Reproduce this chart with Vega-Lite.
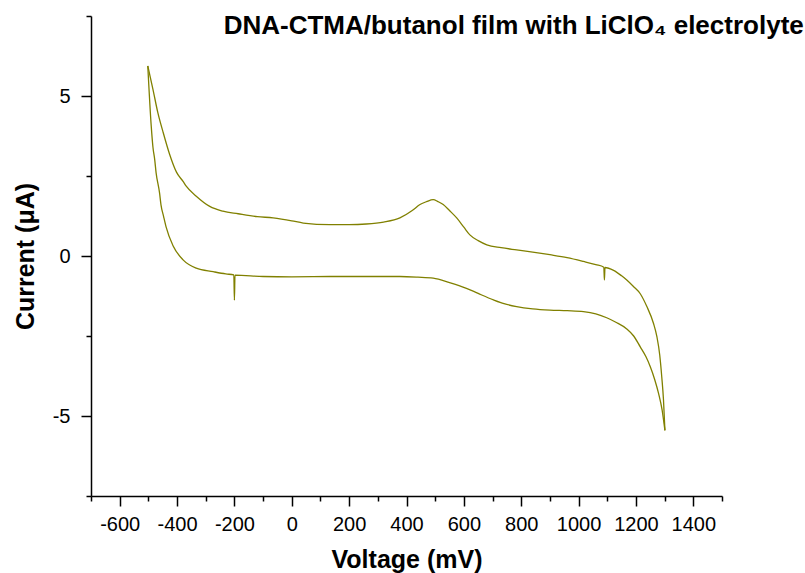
{
  "$schema": "https://vega.github.io/schema/vega-lite/v6.json",
  "width": 631,
  "height": 480,
  "autosize": {"type": "none"},
  "padding": {"left": 91, "top": 16, "right": 83, "bottom": 77},
  "background": "white",
  "config": {
    "view": {"stroke": null},
    "font": "Liberation Sans"
  },
  "title": {
    "text": "DNA-CTMA/butanol film with LiClO₄ electrolyte",
    "anchor": "end",
    "font": "Liberation Sans",
    "fontSize": 26,
    "fontWeight": "bold",
    "color": "black",
    "dx": 81,
    "dy": 37
  },
  "data": {
    "values": [
      {"b": "upper", "v": -502, "c": 5.94},
      {"b": "upper", "v": -484, "c": 5.21},
      {"b": "upper", "v": -467, "c": 4.48},
      {"b": "upper", "v": -449, "c": 3.88},
      {"b": "upper", "v": -426, "c": 3.18},
      {"b": "upper", "v": -402, "c": 2.62},
      {"b": "upper", "v": -379, "c": 2.33},
      {"b": "upper", "v": -368, "c": 2.18},
      {"b": "upper", "v": -333, "c": 1.87},
      {"b": "upper", "v": -286, "c": 1.55},
      {"b": "upper", "v": -240, "c": 1.4},
      {"b": "upper", "v": -187, "c": 1.32},
      {"b": "upper", "v": -120, "c": 1.23},
      {"b": "upper", "v": -65, "c": 1.19},
      {"b": "upper", "v": 0, "c": 1.1},
      {"b": "upper", "v": 40, "c": 1.03},
      {"b": "upper", "v": 133, "c": 0.98},
      {"b": "upper", "v": 200, "c": 0.98},
      {"b": "upper", "v": 260, "c": 1.0},
      {"b": "upper", "v": 320, "c": 1.06},
      {"b": "upper", "v": 377, "c": 1.19},
      {"b": "upper", "v": 420, "c": 1.42},
      {"b": "upper", "v": 447, "c": 1.61},
      {"b": "upper", "v": 470, "c": 1.7},
      {"b": "upper", "v": 493, "c": 1.76},
      {"b": "upper", "v": 510, "c": 1.7},
      {"b": "upper", "v": 528, "c": 1.61},
      {"b": "upper", "v": 550, "c": 1.42},
      {"b": "upper", "v": 575, "c": 1.19},
      {"b": "upper", "v": 600, "c": 0.9},
      {"b": "upper", "v": 621, "c": 0.66},
      {"b": "upper", "v": 650, "c": 0.48},
      {"b": "upper", "v": 680, "c": 0.35},
      {"b": "upper", "v": 730, "c": 0.26},
      {"b": "upper", "v": 784, "c": 0.19},
      {"b": "upper", "v": 840, "c": 0.12},
      {"b": "upper", "v": 900, "c": 0.04},
      {"b": "upper", "v": 960, "c": -0.05},
      {"b": "upper", "v": 1017, "c": -0.17},
      {"b": "upper", "v": 1060, "c": -0.27},
      {"b": "upper", "v": 1088, "c": -0.35},
      {"b": "upper", "v": 1090, "c": -0.75},
      {"b": "upper", "v": 1092, "c": -0.36},
      {"b": "upper", "v": 1122, "c": -0.45},
      {"b": "upper", "v": 1150, "c": -0.62},
      {"b": "upper", "v": 1168, "c": -0.75},
      {"b": "upper", "v": 1192, "c": -0.96},
      {"b": "upper", "v": 1215, "c": -1.18},
      {"b": "upper", "v": 1238, "c": -1.58},
      {"b": "upper", "v": 1261, "c": -2.1},
      {"b": "upper", "v": 1273, "c": -2.52},
      {"b": "upper", "v": 1283, "c": -3.1},
      {"b": "upper", "v": 1290, "c": -3.78},
      {"b": "upper", "v": 1296, "c": -4.5},
      {"b": "upper", "v": 1301, "c": -5.45},
      {"b": "lower", "v": -502, "c": 5.94},
      {"b": "lower", "v": -490, "c": 4.06},
      {"b": "lower", "v": -484, "c": 3.4},
      {"b": "lower", "v": -478, "c": 3.02},
      {"b": "lower", "v": -473, "c": 2.6},
      {"b": "lower", "v": -461, "c": 1.97},
      {"b": "lower", "v": -456, "c": 1.6},
      {"b": "lower", "v": -447, "c": 1.24},
      {"b": "lower", "v": -438, "c": 0.9},
      {"b": "lower", "v": -414, "c": 0.32},
      {"b": "lower", "v": -379, "c": -0.12},
      {"b": "lower", "v": -333, "c": -0.38},
      {"b": "lower", "v": -274, "c": -0.49},
      {"b": "lower", "v": -230, "c": -0.56},
      {"b": "lower", "v": -202, "c": -0.59},
      {"b": "lower", "v": -200, "c": -1.38},
      {"b": "lower", "v": -198, "c": -0.6},
      {"b": "lower", "v": -100, "c": -0.64},
      {"b": "lower", "v": 0, "c": -0.65},
      {"b": "lower", "v": 133, "c": -0.64},
      {"b": "lower", "v": 250, "c": -0.64},
      {"b": "lower", "v": 377, "c": -0.64},
      {"b": "lower", "v": 440, "c": -0.66},
      {"b": "lower", "v": 493, "c": -0.69},
      {"b": "lower", "v": 550, "c": -0.83},
      {"b": "lower", "v": 609, "c": -1.01},
      {"b": "lower", "v": 650, "c": -1.17},
      {"b": "lower", "v": 703, "c": -1.37},
      {"b": "lower", "v": 740, "c": -1.49},
      {"b": "lower", "v": 784, "c": -1.58},
      {"b": "lower", "v": 840, "c": -1.65},
      {"b": "lower", "v": 900, "c": -1.69},
      {"b": "lower", "v": 960, "c": -1.71},
      {"b": "lower", "v": 1017, "c": -1.74},
      {"b": "lower", "v": 1060, "c": -1.81},
      {"b": "lower", "v": 1098, "c": -1.93},
      {"b": "lower", "v": 1130, "c": -2.07},
      {"b": "lower", "v": 1168, "c": -2.28},
      {"b": "lower", "v": 1192, "c": -2.5},
      {"b": "lower", "v": 1215, "c": -2.84},
      {"b": "lower", "v": 1235, "c": -3.15},
      {"b": "lower", "v": 1250, "c": -3.46},
      {"b": "lower", "v": 1265, "c": -3.85},
      {"b": "lower", "v": 1279, "c": -4.3},
      {"b": "lower", "v": 1291, "c": -4.8},
      {"b": "lower", "v": 1301, "c": -5.45}
    ]
  },
  "mark": {"type": "line", "color": "#808000", "strokeWidth": 1.3, "clip": true, "interpolate": "monotone"},
  "encoding": {
    "x": {
      "field": "v",
      "type": "quantitative",
      "scale": {"domain": [-700, 1500], "nice": false, "zero": false},
      "axis": {
        "title": "Voltage (mV)",
        "values": [-700, -600, -500, -400, -300, -200, -100, 0, 100, 200, 300, 400, 500, 600, 700, 800, 900, 1000, 1100, 1200, 1300, 1400, 1500],
        "labelExpr": "datum.value % 200 === 0 ? '' + datum.value : ''",
        "tickSize": {"condition": {"test": "datum.value % 200 === 0", "value": 10}, "value": 5},
        "grid": false,
        "domainColor": "black",
        "domainWidth": 1.5,
        "tickColor": "black",
        "tickWidth": 1.5,
        "labelFont": "Liberation Sans",
        "labelFontSize": 20,
        "labelColor": "black",
        "labelPadding": 8,
        "labelOverlap": false,
        "labelFlush": false,
        "titleFont": "Liberation Sans",
        "titleFontSize": 25,
        "titleFontWeight": "bold",
        "titleColor": "black",
        "titlePadding": 13
      }
    },
    "y": {
      "field": "c",
      "type": "quantitative",
      "scale": {"domain": [-7.5, 7.5], "nice": false, "zero": false},
      "axis": {
        "title": "Current (μA)",
        "values": [-7.5, -5, -2.5, 0, 2.5, 5, 7.5],
        "labelExpr": "datum.value % 5 === 0 ? '' + datum.value : ''",
        "tickSize": {"condition": {"test": "datum.value % 5 === 0", "value": 10}, "value": 5},
        "grid": false,
        "domainColor": "black",
        "domainWidth": 1.5,
        "tickColor": "black",
        "tickWidth": 1.5,
        "labelFont": "Liberation Sans",
        "labelFontSize": 20,
        "labelColor": "black",
        "labelPadding": 11,
        "labelOverlap": false,
        "labelFlush": false,
        "titleFont": "Liberation Sans",
        "titleFontSize": 25,
        "titleFontWeight": "bold",
        "titleColor": "black",
        "titlePadding": 14
      }
    },
    "detail": {"field": "b"}
  }
}
